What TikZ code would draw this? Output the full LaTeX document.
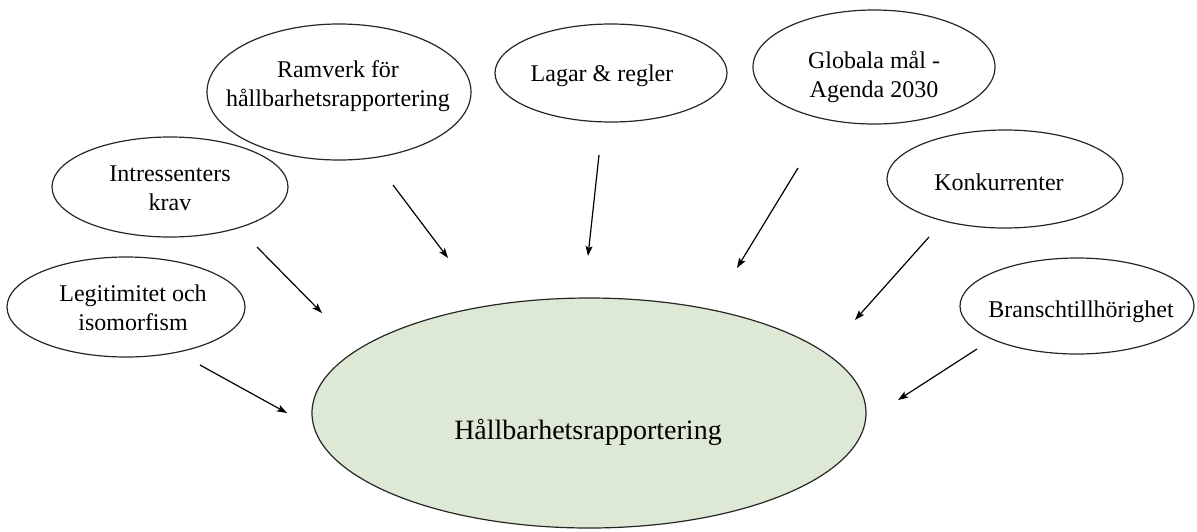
\documentclass[tikz,border=0pt]{standalone}
\usepackage{fontspec}
\setmainfont{Liberation Serif}
\usetikzlibrary{shapes.geometric,arrows.meta}
\definecolor{coregreen}{RGB}{222,233,213}
\begin{document}
\begin{tikzpicture}[x=1pt,y=-1pt,
  bubble/.style={ellipse,draw=black!85,line width=1.2pt,inner sep=0pt},
  btext/.style={inner sep=0pt,align=center,font=\fontsize{24}{29}\selectfont},
  push/.style={line width=1.2pt,-{Stealth[length=10pt,width=7pt,inset=2pt]}}]
\useasboundingbox (0,0) rectangle (1197,531);

% central topic
\node[bubble,fill=coregreen,minimum width=554pt,minimum height=230pt] (core) at (589,413) {};
\node[btext,font=\fontsize{28}{34}\selectfont] (coretext) at (588,432) {Hållbarhetsrapportering};

% influencing factors
\node[bubble,minimum width=238pt,minimum height=100pt] (legit) at (126,307) {};
\node[btext] (legittext) at (133,308) {Legitimitet och\\isomorfism};

\node[bubble,minimum width=236pt,minimum height=100pt] (intr) at (170,187) {};
\node[btext] (intrtext) at (170,188) {Intressenters\\krav};

\node[bubble,minimum width=264pt,minimum height=136pt] (ram) at (339,92) {};
\node[btext] (ramtext) at (338,86) {Ramverk för\\hållbarhetsrapportering};

\node[bubble,minimum width=232pt,minimum height=98pt] (lag) at (611,73) {};
\node[btext] (lagtext) at (602,76) {Lagar \& regler};

\node[bubble,minimum width=242pt,minimum height=114pt] (glob) at (874,67) {};
\node[btext] (globtext) at (874,77) {Globala mål -\\Agenda 2030};

\node[bubble,minimum width=236pt,minimum height=98pt] (konk) at (1005,179) {};
\node[btext] (konktext) at (999,182) {Konkurrenter};

\node[bubble,minimum width=234pt,minimum height=96pt] (bransch) at (1077,306) {};
\node[btext] (branschtext) at (1081,312) {Branschtillhörighet};

% free-standing arrow ends
\coordinate (l0) at (200,365);  \coordinate (l1) at (287,413);
\coordinate (i0) at (257,247);  \coordinate (i1) at (322,313);
\coordinate (r0) at (393,185);  \coordinate (r1) at (448,258);
\coordinate (g0) at (599,155);  \coordinate (g1) at (588,256);
\coordinate (m0) at (798,168);  \coordinate (m1) at (737,268);
\coordinate (k0) at (929,237);  \coordinate (k1) at (855,320);
\coordinate (b0) at (977,349);  \coordinate (b1) at (898,400);

\draw[push] (l0) -- (l1);
\draw[push] (i0) -- (i1);
\draw[push] (r0) -- (r1);
\draw[push] (g0) -- (g1);
\draw[push] (m0) -- (m1);
\draw[push] (k0) -- (k1);
\draw[push] (b0) -- (b1);
\end{tikzpicture}
\end{document}
